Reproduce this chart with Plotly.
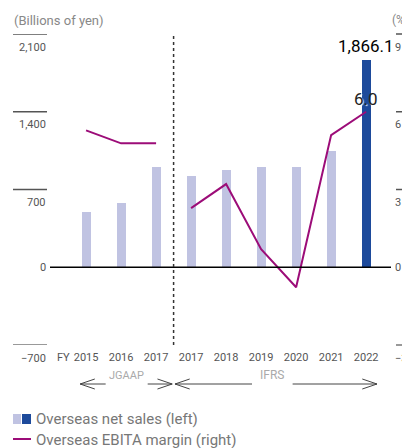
import plotly.graph_objects as go

# --- data ---
years = ["2015", "2016", "2017", "2017", "2018", "2019", "2020", "2021", "2022"]
net_sales = [500, 581, 905, 824, 876, 905, 905, 1047, 1866.1]
margin_jgaap = [5.28, 4.78, 4.78]
margin_ifrs = [2.28, 3.21, 0.70, -0.77, 5.10, 6.0]
left_ticks = [-700, 0, 700, 1400, 2100]
left_labels = ["\u2212700", "0", "700", "1,400", "2,100"]
right_ticks = [-3, 0, 3, 6, 9]
right_labels = ["\u22123", "0", "3", "6", "9"]

LIGHT = "#c0c3e2"
DARK = "#1d4a9b"
PURPLE = "#9c0c78"
FONT = "Roboto"

# page body has an 8px margin, so the figure is drawn 8px in from the window corner
OFF = 8
W, H = 410 - OFF, 448 - OFF
# plot area in window pixels
L, R, T, B = 50, 391, 34, 345


def px_x(px):
    return (px - L) / (R - L)


def px_y(py):
    return (B - py) / (B - T)


idx = list(range(len(years)))
bar_colors = [LIGHT] * (len(years) - 1) + [DARK]

fig = go.Figure()
fig.add_trace(go.Bar(x=idx, y=net_sales, width=0.26, marker=dict(color=bar_colors, line=dict(width=0)),
                     showlegend=False, hoverinfo="skip"))
fig.add_trace(go.Scatter(x=idx[:3], y=margin_jgaap, mode="lines", yaxis="y2",
                         line=dict(color=PURPLE, width=2), showlegend=False))
fig.add_trace(go.Scatter(x=idx[3:], y=margin_ifrs, mode="lines", yaxis="y2",
                         line=dict(color=PURPLE, width=2), showlegend=False))

shapes = []
annotations = []

# zero line
shapes.append(dict(type="line", xref="paper", yref="y", x0=0, x1=1, y0=0, y1=0,
                   line=dict(color="black", width=1.5)))
# JGAAP / IFRS divider
shapes.append(dict(type="line", xref="x", yref="paper", x0=2.5, x1=2.5, y0=0, y1=1,
                   line=dict(color="#333", width=1.5, dash="dot")))

# left axis ticks (line above the value, label under it)
for v, lab in zip(left_ticks, left_labels):
    if v != 0:
        shapes.append(dict(type="line", xref="paper", yref="y", x0=px_x(13), x1=px_x(47), y0=v, y1=v,
                           line=dict(color="#555" if v > 0 else "#777", width=1.5)))
    annotations.append(dict(xref="paper", yref="y", x=px_x(48), y=v, text=lab, showarrow=False,
                            xanchor="right", yanchor="middle", yshift=0 if v == 0 else -13,
                            font=dict(family=FONT, size=11, color="#555")))
# right axis ticks (the two axes share gridlines, so lines go on the left scale)
for v, lab in zip(right_ticks, right_labels):
    if v != 0:
        shapes.append(dict(type="line", xref="paper", yref="paper", x0=px_x(396), x1=px_x(412),
                           y0=(v + 3) / 12, y1=(v + 3) / 12,
                           line=dict(color="#555" if v > 0 else "#777", width=1.5)))
    annotations.append(dict(xref="paper", yref="y2", x=px_x(393), y=v, text=lab, showarrow=False,
                            xanchor="left", yanchor="middle", yshift=0 if v == 0 else -13,
                            font=dict(family=FONT, size=11, color="#555")))

# axis titles
annotations.append(dict(xref="paper", yref="paper", x=px_x(12), y=px_y(20), text="(Billions of yen)",
                        showarrow=False, xanchor="left", yanchor="middle",
                        font=dict(family=FONT, size=13, color="#888")))
annotations.append(dict(xref="paper", yref="paper", x=px_x(390), y=px_y(20), text="(%)",
                        showarrow=False, xanchor="left", yanchor="middle",
                        font=dict(family=FONT, size=12, color="#888")))
annotations.append(dict(xref="paper", yref="paper", x=px_x(55), y=px_y(357), text="FY",
                        showarrow=False, xanchor="left", yanchor="middle",
                        font=dict(family=FONT, size=11, color="#555")))

# value labels
annotations.append(dict(x=idx[-1], y=net_sales[-1], text="1,866.1", showarrow=False, yanchor="middle",
                        yshift=14, font=dict(family=FONT, size=17, color="black")))
annotations.append(dict(x=idx[-1], y=margin_ifrs[-1], yref="y2", text="6.0", showarrow=False,
                        yanchor="middle", yshift=13,
                        font=dict(family=FONT, size=17, color="#222", shadow="1px 1px 1px white")))

# JGAAP / IFRS arrows
ay = px_y(384)
ch = 5 / (B - T)
cw = 0.42
ARROW = dict(color="#444", width=1)


def chevron(xtip, pointing):
    s = 1 if pointing == "right" else -1
    return dict(type="path", xref="x", yref="paper",
                path=f"M {xtip - s * cw} {ay + ch} L {xtip} {ay} L {xtip - s * cw} {ay - ch}",
                line=ARROW)


shapes += [
    dict(type="line", xref="x", yref="paper", x0=-0.17, x1=0.56, y0=ay, y1=ay, line=ARROW),
    dict(type="line", xref="x", yref="paper", x0=1.76, x1=2.46, y0=ay, y1=ay, line=ARROW),
    dict(type="line", xref="x", yref="paper", x0=2.54, x1=4.74, y0=ay, y1=ay, line=ARROW),
    dict(type="line", xref="x", yref="paper", x0=5.9, x1=8.31, y0=ay, y1=ay, line=ARROW),
    chevron(-0.17, "left"), chevron(2.46, "right"), chevron(2.54, "left"), chevron(8.31, "right"),
]
annotations.append(dict(xref="x", yref="paper", x=1.16, y=ay, text="JGAAP", showarrow=False,
                        font=dict(family=FONT, size=11, color="#aaa")))
annotations.append(dict(xref="x", yref="paper", x=5.32, y=ay, text="IFRS", showarrow=False,
                        font=dict(family=FONT, size=12, color="#aaa")))

# legend
shapes += [
    dict(type="rect", xref="paper", yref="paper", x0=px_x(13), x1=px_x(21), y0=px_y(424), y1=px_y(414),
         fillcolor=LIGHT, line=dict(width=0)),
    dict(type="rect", xref="paper", yref="paper", x0=px_x(22), x1=px_x(31), y0=px_y(424), y1=px_y(414),
         fillcolor=DARK, line=dict(width=0)),
    dict(type="line", xref="paper", yref="paper", x0=px_x(13), x1=px_x(31), y0=px_y(439), y1=px_y(439),
         line=dict(color=PURPLE, width=2)),
]
annotations.append(dict(xref="paper", yref="paper", x=px_x(34), y=px_y(419), text="Overseas net sales (left)",
                        showarrow=False, xanchor="left", yanchor="middle",
                        font=dict(family=FONT, size=15, color="#777")))
annotations.append(dict(xref="paper", yref="paper", x=px_x(34), y=px_y(440),
                        text="Overseas EBITA margin (right)", showarrow=False, xanchor="left", yanchor="middle",
                        font=dict(family=FONT, size=15, color="#777")))

fig.update_layout(
    width=W, height=H,
    margin=dict(l=L - OFF, r=W - (R - OFF), t=T - OFF, b=H - (B - OFF), pad=0),
    plot_bgcolor="white", paper_bgcolor="white",
    xaxis=dict(range=[-1.03, 8.71], tickvals=idx, ticktext=years, showgrid=False, zeroline=False,
               showline=False, ticks="", ticklabelstandoff=4,
               tickfont=dict(family=FONT, size=11, color="#555")),
    yaxis=dict(range=[-700, 2100], showgrid=False, zeroline=False, showticklabels=False, fixedrange=True),
    yaxis2=dict(range=[-3, 9], overlaying="y", side="right", showgrid=False, zeroline=False,
                showticklabels=False),
    shapes=shapes, annotations=annotations,
    bargap=0,
)

fig.write_html("out.html")
